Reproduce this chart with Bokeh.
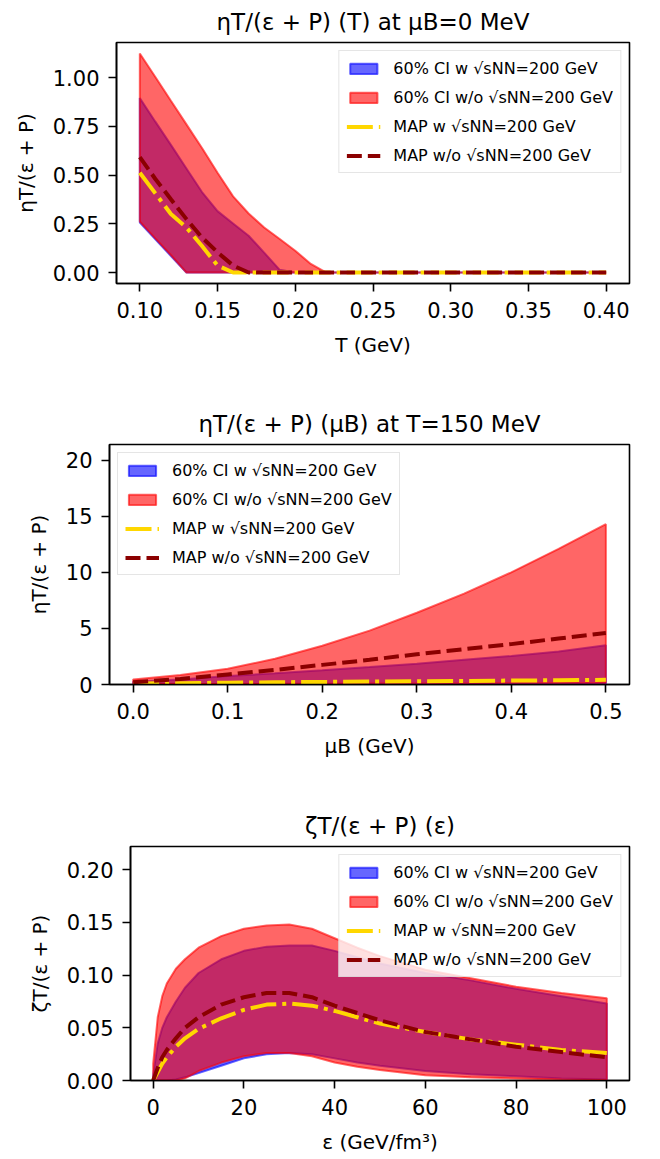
from bokeh.plotting import figure
from bokeh.models import Range1d, FixedTicker, NumeralTickFormatter, Legend, LegendItem
from bokeh.embed import file_html
from bokeh.resources import INLINE

# ---------------- data ----------------
# Panel 1: eta T/(e+P) vs T at muB = 0
T_GeV = [0.10, 0.11, 0.12, 0.13, 0.14, 0.15, 0.16, 0.17, 0.18, 0.19, 0.20, 0.21, 0.22, 0.25, 0.30, 0.35, 0.40]
p1_ci_w_lo = [0.257, 0.170, 0.085, 0.0, 0.0, 0.0, 0.0, 0.0, 0.0, 0.0, 0.0, 0.0, 0.0, 0.0, 0.0, 0.0, 0.0]
p1_ci_w_hi = [0.895, 0.774, 0.655, 0.534, 0.413, 0.315, 0.252, 0.189, 0.102, 0.014, 0.0, 0.0, 0.0, 0.0, 0.0, 0.0, 0.0]
p1_ci_wo_lo = [0.262, 0.175, 0.090, 0.0, 0.0, 0.0, 0.0, 0.0, 0.0, 0.0, 0.0, 0.0, 0.0, 0.0, 0.0, 0.0, 0.0]
p1_ci_wo_hi = [1.124, 1.003, 0.881, 0.760, 0.639, 0.512, 0.391, 0.303, 0.231, 0.172, 0.112, 0.044, 0.0, 0.0, 0.0, 0.0, 0.0]
p1_map_w = [0.512, 0.406, 0.300, 0.231, 0.136, 0.036, 0.0, 0.0, 0.0, 0.0, 0.0, 0.0, 0.0, 0.0, 0.0, 0.0, 0.0]
p1_map_wo = [0.592, 0.480, 0.376, 0.274, 0.180, 0.104, 0.036, 0.0, 0.0, 0.0, 0.0, 0.0, 0.0, 0.0, 0.0, 0.0, 0.0]

# Panel 2: eta T/(e+P) vs muB at T = 150 MeV
muB_GeV = [0.0, 0.05, 0.10, 0.15, 0.20, 0.25, 0.30, 0.35, 0.40, 0.45, 0.50]
p2_ci_w_lo = [0.02, 0.02, 0.03, 0.03, 0.03, 0.04, 0.04, 0.04, 0.05, 0.05, 0.05]
p2_ci_w_hi = [0.24, 0.45, 0.75, 1.00, 1.26, 1.55, 1.86, 2.20, 2.54, 2.95, 3.50]
p2_ci_wo_lo = [0.03, 0.04, 0.05, 0.06, 0.07, 0.08, 0.09, 0.10, 0.11, 0.12, 0.13]
p2_ci_wo_hi = [0.45, 0.85, 1.40, 2.30, 3.45, 4.80, 6.40, 8.10, 10.0, 12.1, 14.3]
p2_map_w = [0.08, 0.12, 0.16, 0.20, 0.23, 0.26, 0.29, 0.32, 0.35, 0.38, 0.42]
p2_map_wo = [0.20, 0.50, 0.90, 1.30, 1.75, 2.20, 2.70, 3.15, 3.60, 4.10, 4.60]

# Panel 3: zeta T/(e+P) vs energy density
eps_GeVfm3 = [0, 1, 2, 3, 5, 7, 10, 15, 20, 25, 30, 35, 40, 45, 50, 60, 70, 80, 90, 100]
p3_ci_w_lo = [0.0, 0.0, 0.0, 0.0, 0.001, 0.003, 0.007, 0.014, 0.021, 0.025, 0.026, 0.025, 0.021, 0.017, 0.014, 0.009, 0.006, 0.004, 0.002, 0.001]
p3_ci_w_hi = [0.005, 0.035, 0.050, 0.060, 0.075, 0.088, 0.102, 0.115, 0.123, 0.127, 0.128, 0.128, 0.123, 0.117, 0.111, 0.102, 0.095, 0.087, 0.080, 0.073]
p3_ci_wo_lo = [0.0, 0.0, 0.0, 0.0, 0.0, 0.002, 0.009, 0.017, 0.023, 0.026, 0.026, 0.023, 0.017, 0.013, 0.010, 0.005, 0.003, 0.002, 0.001, 0.0005]
p3_ci_wo_hi = [0.016, 0.060, 0.080, 0.092, 0.106, 0.115, 0.126, 0.137, 0.144, 0.147, 0.148, 0.144, 0.135, 0.126, 0.118, 0.105, 0.097, 0.089, 0.083, 0.078]
p3_map_w = [0.0, 0.008, 0.016, 0.022, 0.032, 0.040, 0.049, 0.059, 0.067, 0.072, 0.073, 0.071, 0.066, 0.060, 0.054, 0.046, 0.039, 0.034, 0.029, 0.026]
p3_map_wo = [0.0, 0.012, 0.022, 0.029, 0.040, 0.050, 0.060, 0.072, 0.079, 0.083, 0.083, 0.079, 0.071, 0.064, 0.057, 0.046, 0.039, 0.032, 0.027, 0.022]

legend_labels = [
    "60% CI w √sNN=200 GeV",
    "60% CI w/o √sNN=200 GeV",
    "MAP w √sNN=200 GeV",
    "MAP w/o √sNN=200 GeV",
]

FONT = "DejaVu Sans"


def make_panel(height, left, top, bottom, xr, yr, xticks, yticks, xfmt, yfmt,
               title, xlabel, ylabel, x, w_lo, w_hi, wo_lo, wo_hi, map_w, map_wo, loc):
    p = figure(width=660, height=height, output_backend="svg", toolbar_location=None,
               x_range=Range1d(*xr), y_range=Range1d(*yr),
               min_border_left=left, min_border_right=31,
               min_border_top=top, min_border_bottom=bottom, title=title)
    p.title.text_font = FONT
    p.title.text_font_size = "23px"
    p.title.text_font_style = "normal"
    p.title.text_color = "black"
    p.title.align = "center"
    p.title.vertical_align = "top"
    p.title.standoff = 12
    p.xgrid.visible = False
    p.ygrid.visible = False
    p.outline_line_color = "black"
    p.outline_line_width = 1.6
    p.outline_line_alpha = 1.0
    p.background_fill_color = "white"
    p.border_fill_color = "white"

    p.xaxis.ticker = FixedTicker(ticks=xticks)
    p.yaxis.ticker = FixedTicker(ticks=yticks)
    p.xaxis.formatter = NumeralTickFormatter(format=xfmt)
    p.yaxis.formatter = NumeralTickFormatter(format=yfmt)
    p.xaxis.axis_label = xlabel
    p.yaxis.axis_label = ylabel
    for ax in (p.xaxis, p.yaxis):
        ax.axis_line_color = "black"
        ax.axis_line_width = 1.6
        ax.major_tick_line_color = "black"
        ax.major_tick_line_width = 1.6
        ax.major_tick_out = 8
        ax.major_tick_in = 0
        ax.minor_tick_out = 0
        ax.minor_tick_in = 0
        ax.major_label_text_font = FONT
        ax.major_label_text_font_size = "21px"
        ax.major_label_text_color = "black"
        ax.axis_label_text_font = FONT
        ax.axis_label_text_font_size = "20px"
        ax.axis_label_text_font_style = "normal"
        ax.axis_label_text_color = "black"
    p.xaxis.major_label_standoff = 10
    p.xaxis.axis_label_standoff = 12
    p.yaxis.major_label_standoff = 9
    p.yaxis.axis_label_standoff = 12

    xs = list(x) + list(x)[::-1]
    r_w = p.patch(xs, list(w_hi) + list(w_lo)[::-1], fill_color="blue", fill_alpha=0.6,
                  line_color="blue", line_alpha=0.6, line_width=2)
    r_wo = p.patch(xs, list(wo_hi) + list(wo_lo)[::-1], fill_color="red", fill_alpha=0.6,
                   line_color="red", line_alpha=0.6, line_width=2)
    r_mw = p.line(x, map_w, line_color="#ffd700", line_width=4, line_dash="26 6 4 6")
    r_mwo = p.line(x, map_wo, line_color="#8b0000", line_width=4, line_dash="15 6")

    legend = Legend(items=[
        LegendItem(label=legend_labels[0], renderers=[r_w]),
        LegendItem(label=legend_labels[1], renderers=[r_wo]),
        LegendItem(label=legend_labels[2], renderers=[r_mw]),
        LegendItem(label=legend_labels[3], renderers=[r_mwo]),
    ], location=loc)
    legend.label_text_font = FONT
    legend.label_text_font_size = "16px"
    legend.label_text_color = "black"
    legend.glyph_width = 34
    legend.glyph_height = 13
    legend.label_height = 20
    legend.spacing = 9
    legend.padding = 7
    legend.margin = 8
    legend.label_standoff = 13
    legend.border_line_color = "#cccccc"
    legend.border_line_width = 1.6
    legend.background_fill_color = "white"
    legend.background_fill_alpha = 0.8
    p.add_layout(legend)
    return p


p1 = make_panel(390, 116, 42, 107, (0.085, 0.415), (-0.0562, 1.1802),
                [0.10, 0.15, 0.20, 0.25, 0.30, 0.35, 0.40], [0.0, 0.25, 0.5, 0.75, 1.0],
                "0.00", "0.00",
                "ηT/(ε + P) (T) at μB=0 MeV", "T (GeV)", "ηT/(ε + P)",
                T_GeV, p1_ci_w_lo, p1_ci_w_hi, p1_ci_wo_lo, p1_ci_wo_hi, p1_map_w, p1_map_wo,
                "top_right")

p2 = make_panel(405, 109, 54, 111, (-0.025, 0.525), (0, 21.4),
                [0.0, 0.1, 0.2, 0.3, 0.4, 0.5], [0, 5, 10, 15, 20],
                "0.0", "0",
                "ηT/(ε + P) (μB) at T=150 MeV", "μB (GeV)", "ηT/(ε + P)",
                muB_GeV, p2_ci_w_lo, p2_ci_w_hi, p2_ci_wo_lo, p2_ci_wo_hi, p2_map_w, p2_map_wo,
                "top_left")

p3 = make_panel(364, 130, 51, 79, (-5, 105), (0, 0.222),
                [0, 20, 40, 60, 80, 100], [0.0, 0.05, 0.10, 0.15, 0.20],
                "0", "0.00",
                "ζT/(ε + P) (ε)", "ε (GeV/fm³)", "ζT/(ε + P)",
                eps_GeVfm3, p3_ci_w_lo, p3_ci_w_hi, p3_ci_wo_lo, p3_ci_wo_hi, p3_map_w, p3_map_wo,
                "top_right")

# separate roots so each panel keeps its own frame position (no cross-panel alignment)
open("out.html", "w").write(file_html([p1, p2, p3], INLINE))
